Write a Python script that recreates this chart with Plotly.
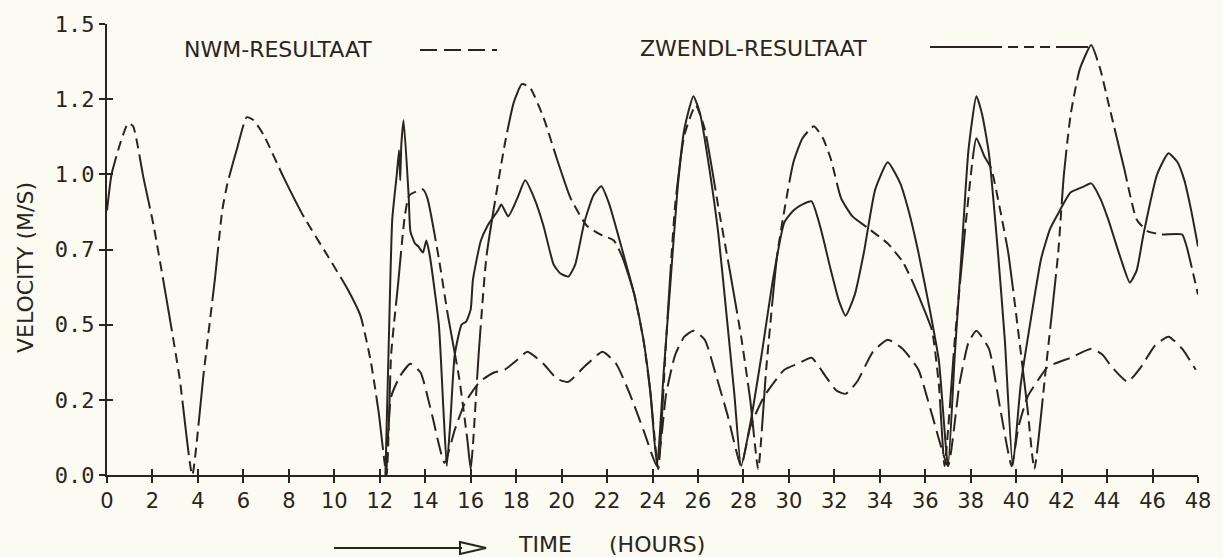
import plotly.graph_objects as go

# ---------------- data ----------------
zw_t = [0, 0.2, 0.57, 0.93, 1.15, 1.6, 2.05, 2.63, 3.2, 3.75, 4.24, 4.76, 5.07, 5.3, 5.7, 6.15, 6.45,
        6.9, 7.77, 8.65, 9.7, 10.57, 11.15, 11.6, 11.95, 12.3,
        12.5, 12.8, 13.1, 13.3, 13.9, 14.1, 14.6, 15.0, 15.5, 15.85, 16.0,
        16.1, 16.35, 16.7, 17.5, 17.9, 18.25, 18.6, 19.2, 19.8, 20.4, 21.1, 21.7, 22.3, 22.7, 23.2, 23.6, 23.9, 24.25,
        24.6, 25.0, 25.4, 25.9, 26.3, 26.9, 27.4, 27.9, 28.3, 28.65,
        29.0, 29.5, 30.2, 30.6, 31.1, 31.5, 31.85, 32.3, 32.8, 33.5, 34.35, 35.0, 35.4, 35.9, 36.3, 36.6, 36.85,
        37.3, 37.8, 38.25, 38.6, 38.9, 39.3, 39.65, 40.2, 40.5, 40.8,
        41.3, 41.85, 42.1, 42.4, 42.8, 43.3, 43.7, 44.05, 44.75, 45.3, 45.8, 46.4, 47.3, 47.5, 48.0]
zw_v = [0.88, 1.0, 1.1, 1.17, 1.16, 0.99, 0.83, 0.58, 0.32, 0.0, 0.33, 0.66, 0.88, 0.97, 1.08, 1.19, 1.18,
        1.13, 0.99, 0.86, 0.73, 0.62, 0.53, 0.38, 0.21, 0.0,
        0.4, 0.63, 0.86, 0.93, 0.95, 0.92, 0.72, 0.53, 0.32, 0.12, 0.02,
        0.1, 0.4, 0.73, 1.1, 1.24, 1.3, 1.29, 1.19, 1.05, 0.92, 0.83, 0.8, 0.78, 0.72, 0.6, 0.45, 0.28, 0.02,
        0.45, 0.9, 1.13, 1.23, 1.15, 0.89, 0.68, 0.46, 0.25, 0.02,
        0.35, 0.74, 1.04, 1.12, 1.16, 1.12, 1.05, 0.92, 0.86, 0.82, 0.77, 0.71, 0.65, 0.56, 0.48, 0.3, 0.03,
        0.45, 0.85, 1.12, 1.06, 1.02, 0.88, 0.74, 0.41, 0.22, 0.02,
        0.35, 0.74, 1.0, 1.2, 1.35, 1.43, 1.35, 1.24, 1.02, 0.85, 0.81, 0.8, 0.8, 0.76, 0.6]

sol_t = [12.25, 12.4, 12.55, 12.75, 12.85, 12.9, 12.95, 13.05, 13.27, 13.35, 13.55, 13.7, 13.9, 14.05, 14.2,
         14.6, 14.8, 14.95,
         15.1, 15.3, 15.6, 15.8, 16.0, 16.1, 16.45, 16.75, 17.2, 17.35, 17.65, 18.05, 18.4, 18.8, 19.2, 19.65,
         19.95, 20.3, 20.6, 21.0, 21.4, 21.75, 22.1, 22.7, 23.2, 23.6, 23.9, 24.2,
         24.5, 24.8, 25.1, 25.4, 25.8, 26.1, 26.5, 26.9, 27.3, 27.6, 27.9,
         28.3, 28.8, 29.3, 29.8, 30.2, 30.6, 31.0, 31.4, 31.85, 32.2, 32.5, 32.9, 33.3, 33.8, 34.35, 34.9, 35.3,
         35.7, 36.2, 36.6, 37.0,
         37.3, 37.6, 37.9, 38.25, 38.5, 38.8, 39.2, 39.5, 39.85,
         40.2, 40.65, 41.1, 41.5, 41.85, 42.4, 43.0, 43.3, 43.7, 44.05, 44.6, 45.0, 45.3, 45.6, 46.2, 46.7,
         47.1, 47.4, 47.7, 48.0]
sol_v = [0.0, 0.45, 0.85, 1.0, 1.08, 0.98, 1.1, 1.18, 0.93, 0.81, 0.77, 0.76, 0.74, 0.78, 0.73,
         0.5, 0.22, 0.03,
         0.17, 0.4, 0.5, 0.51, 0.55, 0.65, 0.78, 0.83, 0.88, 0.9, 0.86, 0.92, 0.98, 0.92, 0.83, 0.7,
         0.67, 0.66, 0.7, 0.84, 0.93, 0.96, 0.9, 0.74, 0.6, 0.45, 0.28, 0.03,
         0.35, 0.65, 0.95, 1.15, 1.26, 1.2, 1.02, 0.8, 0.5, 0.27, 0.03,
         0.17, 0.4, 0.65, 0.84, 0.88, 0.9, 0.91, 0.82, 0.68, 0.58, 0.53, 0.6, 0.74, 0.95, 1.04, 0.97, 0.87,
         0.74, 0.55, 0.38, 0.03,
         0.4, 0.74, 1.08, 1.26, 1.2, 1.07, 0.74, 0.45, 0.03,
         0.3, 0.52, 0.72, 0.82, 0.87, 0.94, 0.96, 0.97, 0.92, 0.85, 0.72, 0.64, 0.68, 0.8, 1.0, 1.07,
         1.04, 0.98, 0.88, 0.76]

nwm_t = [12.3, 12.5, 12.9, 13.35, 13.8, 14.3, 14.85,
         15.3, 15.75, 16.4, 17.0, 17.5, 18.0, 18.5, 19.2, 19.8, 20.3, 21.0, 21.8, 22.4, 23.0, 23.6, 24.2,
         24.6, 25.0, 25.4, 25.8, 26.3, 26.8, 27.3, 27.9,
         28.3, 28.9, 29.8, 30.4, 31.0, 31.6, 32.1, 32.5, 33.0, 33.7, 34.35, 35.0, 35.7, 36.3, 37.0,
         37.5, 37.9, 38.25, 38.8, 39.3, 39.8,
         40.1, 40.5, 41.0, 41.4, 42.4, 43.3, 43.8, 44.2, 44.9, 45.5, 46.1, 46.7, 47.3, 47.9]
nwm_v = [0.02, 0.26, 0.33, 0.37, 0.34, 0.2, 0.04,
         0.15, 0.24, 0.31, 0.34, 0.35, 0.38, 0.41, 0.37, 0.32, 0.31, 0.36, 0.41, 0.37, 0.27, 0.15, 0.03,
         0.27, 0.4, 0.46, 0.48, 0.45, 0.33, 0.2, 0.03,
         0.16, 0.26, 0.35, 0.37, 0.39, 0.33, 0.28, 0.27, 0.31, 0.41, 0.45, 0.42, 0.35, 0.2, 0.03,
         0.3, 0.44, 0.48, 0.42, 0.22, 0.03,
         0.16, 0.26, 0.32, 0.36, 0.39, 0.42, 0.4, 0.36, 0.31, 0.36, 0.43, 0.46, 0.42, 0.35]

y_tickvals = [0, 0.25, 0.5, 0.75, 1.0, 1.25, 1.5]
y_ticktext = ["0.0", "0.2", "0.5", "0.7", "1.0", "1.2", "1.5"]
x_tickvals = list(range(0, 49, 2))

# ---------------- style ----------------
INK = "#2a2420"
BG = "#fcfbf2"
FONT = "DejaVu Sans"
ZW_DASH = "55px,6px,10px,6px,10px,6px,10px,6px,10px,6px"
NWM_DASH = "17px,7px"
SMOOTH = 0.5

W, H = 1223, 557
L, R, T, B = 107, 1198, 24, 475


def px(x):
    return (x - L) / (R - L)


def py(y):
    return (B - y) / (B - T)


fig = go.Figure()
fig.add_trace(go.Scatter(x=zw_t, y=zw_v, mode="lines",
                         line=dict(color=INK, width=2, dash=ZW_DASH, shape="spline", smoothing=SMOOTH),
                         name="ZWENDL-RESULTAAT", hoverinfo="skip"))
fig.add_trace(go.Scatter(x=sol_t, y=sol_v, mode="lines",
                         line=dict(color=INK, width=2, shape="spline", smoothing=SMOOTH),
                         name="solid", hoverinfo="skip"))
fig.add_trace(go.Scatter(x=nwm_t, y=nwm_v, mode="lines",
                         line=dict(color=INK, width=2, dash=NWM_DASH, shape="spline", smoothing=SMOOTH),
                         name="NWM-RESULTAAT", hoverinfo="skip"))
# helper trace so the overlay axes (inner tick marks) are drawn
fig.add_trace(go.Scatter(x=[None], y=[None], xaxis="x2", yaxis="y2", mode="lines", hoverinfo="skip"))

fig.update_layout(
    width=W, height=H,
    margin=dict(l=L, r=W - R, t=T, b=H - B, pad=0),
    paper_bgcolor=BG, plot_bgcolor=BG,
    showlegend=False,
    xaxis=dict(range=[0, 48], tickvals=x_tickvals, ticks="outside", ticklen=6, tickwidth=2,
               tickcolor=INK, showline=True, linecolor=INK, linewidth=2, showgrid=False,
               zeroline=False, tickfont=dict(family=FONT, size=21, color=INK), fixedrange=True),
    yaxis=dict(range=[0, 1.5], tickvals=y_tickvals, ticktext=y_ticktext, ticks="outside", ticklen=6,
               tickwidth=2, tickcolor=INK, showline=True, linecolor=INK, linewidth=2, showgrid=False,
               zeroline=False, tickfont=dict(family="DejaVu Sans Mono", size=22, color=INK),
               fixedrange=True),
    xaxis2=dict(range=[0, 48], tickvals=x_tickvals, ticks="inside", ticklen=6, tickwidth=2,
                tickcolor=INK, overlaying="x", anchor="y", side="bottom", showticklabels=False,
                showline=False, showgrid=False, zeroline=False),
    yaxis2=dict(range=[0, 1.5], tickvals=y_tickvals, ticks="inside", ticklen=6, tickwidth=2,
                tickcolor=INK, overlaying="y", anchor="x", side="left", showticklabels=False,
                showline=False, showgrid=False, zeroline=False),
)

txt = dict(family=FONT, size=22, color=INK)
annos = [
    dict(text="NWM-RESULTAAT", x=px(278), y=py(50)),
    dict(text="ZWENDL-RESULTAAT", x=px(753), y=py(48)),
    dict(text="TIME", x=px(545), y=py(544)),
    dict(text="(HOURS)", x=px(657), y=py(544)),
]
for a in annos:
    fig.add_annotation(xref="paper", yref="paper", showarrow=False, font=txt,
                       xanchor="center", yanchor="middle", **a)
fig.add_annotation(text="VELOCITY (M/S)", xref="paper", yref="paper", x=px(25), y=py(268),
                   textangle=-90, showarrow=False, font=txt, xanchor="center", yanchor="middle")

shapes = [
    dict(type="line", xref="paper", yref="paper", x0=px(420), x1=px(497), y0=py(50), y1=py(50),
         line=dict(color=INK, width=2, dash=NWM_DASH)),
    dict(type="line", xref="paper", yref="paper", x0=px(930), x1=px(1088), y0=py(47), y1=py(47),
         line=dict(color=INK, width=2, dash="72px,6px,10px,6px,10px,6px,10px,6px,60px,0px")),
    dict(type="line", xref="paper", yref="paper", x0=px(334), x1=px(462), y0=py(548), y1=py(548),
         line=dict(color=INK, width=2)),
    dict(type="path", xref="paper", yref="paper",
         path="M {} {} L {} {} L {} {} Z".format(px(460), py(542), px(486), py(548), px(460), py(554)),
         line=dict(color=INK, width=2), fillcolor="rgba(0,0,0,0)"),
]
for s in shapes:
    fig.add_shape(**s)

fig.write_html("out.html", config={"displayModeBar": False},
               post_script="document.body.style.margin='0';")
